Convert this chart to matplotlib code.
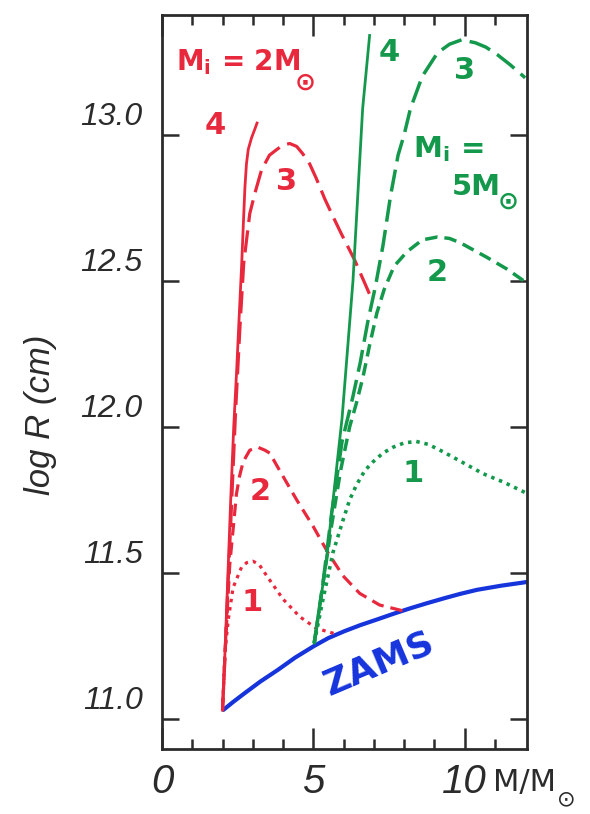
import matplotlib
matplotlib.use("Agg")
import matplotlib.pyplot as plt

plt.rcParams['lines.scale_dashes'] = False
plt.rcParams['mathtext.fontset'] = 'dejavusans'
plt.rcParams['font.family'] = ['DejaVu Sans']

RED = '#e8283c'
GREEN = '#14994c'
BLUE = '#1634dc'
INK = '#2b2b2b'

# zero age main sequence
zams_m = [2.03, 2.35, 2.73, 3.25, 3.83, 4.4, 5.03, 5.5, 6.02, 6.55, 7.12, 7.65, 8.21, 8.75, 9.32, 9.85, 10.41, 11.2, 11.94, 12.06]
zams_r = [11.031, 11.058, 11.088, 11.128, 11.168, 11.21, 11.25, 11.277, 11.30, 11.321, 11.341, 11.36, 11.379, 11.396, 11.413, 11.428, 11.442, 11.456, 11.467, 11.469]

# Mi = 2 Msun tracks
r4_m = [2.0, 2.09, 2.18, 2.27, 2.37, 2.47, 2.56, 2.63, 2.69, 2.74, 2.79, 2.85, 2.96, 3.07, 3.14]
r4_r = [11.03, 11.25, 11.5, 11.75, 12.0, 12.2, 12.4, 12.55, 12.7, 12.82, 12.9, 12.95, 12.99, 13.02, 13.04]

r3_m = [2.0, 2.22, 2.43, 2.58, 2.7, 2.9, 3.07, 3.29, 3.55, 3.8, 4.0, 4.22, 4.45, 4.65, 4.88, 5.1, 5.38, 5.65, 5.93, 6.37, 6.96]
r3_r = [11.03, 11.55, 12.05, 12.35, 12.56, 12.73, 12.8, 12.88, 12.93, 12.95, 12.965, 12.97, 12.96, 12.935, 12.9, 12.85, 12.78, 12.72, 12.66, 12.57, 12.43]

r2_m = [2.0, 2.12, 2.24, 2.35, 2.46, 2.56, 2.68, 2.9, 3.17, 3.4, 3.56, 3.89, 4.45, 4.99, 5.48, 5.98, 6.53, 7.19, 7.96]
r2_r = [11.03, 11.3, 11.53, 11.65, 11.77, 11.83, 11.88, 11.92, 11.93, 11.92, 11.91, 11.85, 11.75, 11.66, 11.57, 11.49, 11.43, 11.39, 11.37]

r1_m = [2.0, 2.08, 2.19, 2.35, 2.63, 2.8, 3.0, 3.2, 3.46, 4.0, 4.55, 5.1, 5.77]
r1_r = [11.03, 11.23, 11.34, 11.45, 11.52, 11.535, 11.54, 11.53, 11.49, 11.41, 11.35, 11.31, 11.29]

# Mi = 5 Msun tracks
g4_m = [5.03, 5.43, 5.95, 6.31, 6.63, 6.86]
g4_r = [11.26, 11.54, 12.03, 12.5, 13.09, 13.34]

g3_m = [5.03, 5.3, 5.6, 5.95, 6.3, 6.55, 6.8, 7.05, 7.3, 7.55, 7.8, 8.0, 8.21, 8.6, 9.1, 9.5, 9.9, 10.35, 10.7, 11.07, 11.5, 12.0]
g3_r = [11.26, 11.45, 11.7, 11.95, 12.1, 12.22, 12.36, 12.48, 12.62, 12.79, 12.93, 13.0, 13.09, 13.2, 13.28, 13.31, 13.325, 13.315, 13.3, 13.275, 13.24, 13.195]

g2_m = [5.03, 5.3, 5.6, 5.9, 6.2, 6.42, 6.64, 6.86, 7.1, 7.34, 7.67, 8.1, 8.6, 9.1, 9.5, 9.86, 10.3, 10.74, 11.4, 11.95]
g2_r = [11.26, 11.45, 11.66, 11.85, 12.0, 12.08, 12.17, 12.28, 12.39, 12.47, 12.55, 12.6, 12.64, 12.65, 12.645, 12.63, 12.605, 12.58, 12.54, 12.5]

g1_m = [5.03, 5.3, 5.65, 5.98, 6.2, 6.42, 6.7, 6.97, 7.3, 7.63, 8.0, 8.4, 8.8, 9.28, 9.9, 10.6, 11.3, 12.0]
g1_r = [11.26, 11.4, 11.57, 11.68, 11.75, 11.80, 11.85, 11.88, 11.91, 11.93, 11.945, 11.95, 11.94, 11.915, 11.88, 11.84, 11.81, 11.775]

ytick_vals = [11.0, 11.5, 12.0, 12.5, 13.0]
ytick_labels = ['11.0', '11.5', '12.0', '12.5', '13.0']
xtick_vals = [0, 5, 10]
xtick_labels = ['0', '5', '10']

fig = plt.figure(figsize=(5.9, 8.14), dpi=100)
ax = fig.add_axes([162 / 590, 1 - 749 / 814, (527 - 162) / 590, (749 - 15) / 814])
ax.set_xlim(0.05, 12.06)
ax.set_ylim(10.897, 13.41)

long_dash = (0, (16, 6))
mid_dash = (0, (9, 5))
dots = (0, (2.5, 3.5))

ax.plot(zams_m, zams_r, color=BLUE, lw=3.0, solid_capstyle='round')
ax.plot(r4_m, r4_r, color=RED, lw=2.0)
ax.plot(r3_m, r3_r, color=RED, lw=2.3, ls=long_dash)
ax.plot(r2_m, r2_r, color=RED, lw=2.3, ls=mid_dash)
ax.plot(r1_m, r1_r, color=RED, lw=2.3, ls=dots)
ax.plot(g4_m, g4_r, color=GREEN, lw=2.0)
ax.plot(g3_m, g3_r, color=GREEN, lw=2.5, ls=long_dash)
ax.plot(g2_m, g2_r, color=GREEN, lw=2.5, ls=mid_dash)
ax.plot(g1_m, g1_r, color=GREEN, lw=2.6, ls=dots)

# frame and ticks
for sp in ax.spines.values():
    sp.set_color(INK)
    sp.set_linewidth(2.0)
ax.set_xticks(xtick_vals)
ax.set_xticks(list(range(1, 12)), minor=True)
ax.set_xticklabels(xtick_labels, fontsize=29, style='italic', color=INK,
                   family='Liberation Sans')
ax.set_yticks(ytick_vals)
ax.set_yticklabels([])
ax.tick_params(axis='x', which='major', direction='in', length=15, width=1.8,
               top=True, color=INK, pad=10)
ax.tick_params(axis='x', which='minor', direction='in', length=7, width=1.8,
               top=True, color=INK)
ax.tick_params(axis='y', which='major', direction='in', length=12, width=1.8,
               right=True, color=INK)

# y tick labels sit a little above their ticks
for v, lab in zip(ytick_vals, ytick_labels):
    ax.annotate(lab, xy=(0, v), xycoords=ax.get_yaxis_transform(),
                xytext=(-14, 13), textcoords='offset points', ha='right', va='center',
                fontsize=23, style='italic', color=INK, family='Liberation Sans')

ax.text(-0.334, 0.455, 'log R (cm)', transform=ax.transAxes, rotation=90,
        ha='center', va='center', fontsize=25, style='italic', color=INK,
        family='Liberation Sans')
xlab_tr = ax.get_xaxis_transform()
ax.text(10.94, -0.045, 'M/M', transform=xlab_tr, ha='left', va='center',
        fontsize=22, color=INK, clip_on=False)
ax.text(13.36, -0.068, '\u2299', transform=xlab_tr, ha='center', va='center',
        fontsize=16, color=INK, clip_on=False)

# curve labels
lab_kw = dict(fontsize=22, fontweight='bold', ha='center', va='center')
sun_kw = dict(fontsize=18, fontweight='bold', ha='center', va='center')
ax.text(0.45, 13.25, r'M$_\mathregular{i}$ = 2M', color=RED, ha='left',
        va='center', fontsize=20, fontweight='bold')
ax.text(4.72, 13.18, '\u2299', color=RED, **sun_kw)
ax.text(1.75, 13.03, '4', color=RED, **lab_kw)
ax.text(4.13, 12.84, '3', color=RED, **lab_kw)
ax.text(3.23, 11.78, '2', color=RED, **lab_kw)
ax.text(2.97, 11.40, '1', color=RED, **lab_kw)

ax.text(7.52, 13.28, '4', color=GREEN, **lab_kw)
ax.text(10.0, 13.22, '3', color=GREEN, **lab_kw)
ax.text(9.1, 12.53, '2', color=GREEN, **lab_kw)
ax.text(8.3, 11.84, '1', color=GREEN, **lab_kw)
ax.text(8.28, 12.95, r'M$_\mathregular{i}$ =', color=GREEN, ha='left', va='center',
        fontsize=21, fontweight='bold')
ax.text(9.57, 12.82, '5M', color=GREEN, ha='left', va='center',
        fontsize=21, fontweight='bold')
ax.text(11.45, 12.77, '\u2299', color=GREEN, **sun_kw)

ax.text(7.17, 11.19, 'ZAMS', color=BLUE, rotation=23, ha='center', va='center',
        fontsize=26, fontweight='bold')

fig.savefig('out.png', dpi=100)
